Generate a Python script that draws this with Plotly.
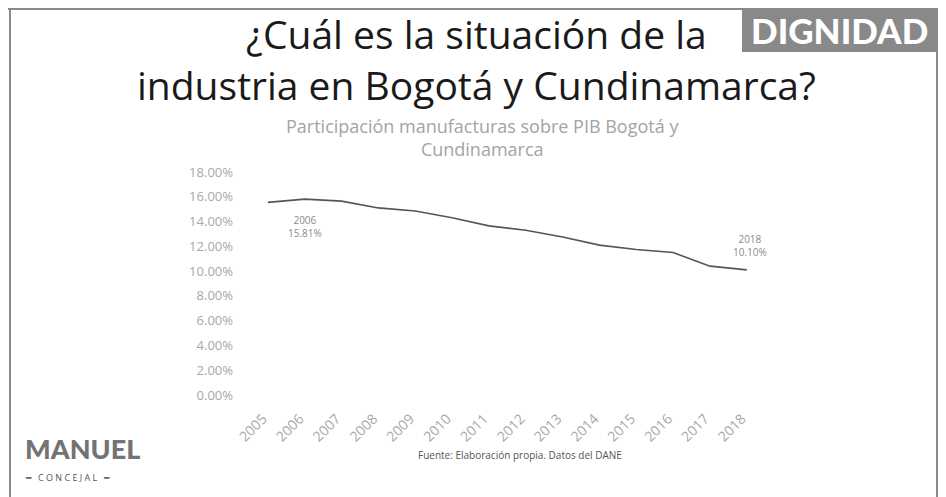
import plotly.graph_objects as go

years = list(range(2005, 2019))
share_pct = [15.55, 15.81, 15.65, 15.1, 14.85, 14.3, 13.65, 13.3, 12.75, 12.1, 11.75, 11.5, 10.4, 10.1]
y_ticks = [0, 2, 4, 6, 8, 10, 12, 14, 16, 18]
y_tick_labels = [f"{v:.2f}%" for v in y_ticks]

TITLE_FONT = "Open Sans, sans-serif"
BODY_FONT = "Open Sans, sans-serif"
LIGHT = "#a8a8a8"

# the page body adds an 8px margin, so lay out in slide pixels and shift back
OFF = 8
L, T, W, H = 220 - OFF, 170 - OFF, 550, 230

fig = go.Figure(
    go.Scatter(
        x=years,
        y=share_pct,
        mode="lines",
        line=dict(color="#555555", width=1.6),
        hoverinfo="skip",
    )
)

fig.update_layout(
    width=946,
    height=497,
    paper_bgcolor="#ffffff",
    plot_bgcolor="#ffffff",
    showlegend=False,
    margin=dict(l=L, r=946 - L - W, t=T, b=497 - T - H),
    xaxis=dict(
        range=[2003.70, 2018.63],
        tickmode="array",
        tickvals=years,
        ticktext=[str(y) for y in years],
        tickangle=-45,
        tickfont=dict(family=BODY_FONT, size=14, color=LIGHT),
        ticklabelstandoff=7,
        ticklabelshift=-5,
        showgrid=False,
        zeroline=False,
        showline=False,
        ticks="",
    ),
    yaxis=dict(
        range=[-0.40, 18.16],
        tickmode="array",
        tickvals=y_ticks,
        ticktext=y_tick_labels,
        tickfont=dict(family=BODY_FONT, size=13, color=LIGHT),
        showgrid=False,
        zeroline=False,
        showline=False,
        ticks="",
        ticklabelstandoff=-14,
    ),
)


# slide-pixel helpers -> plot-domain coordinates
def px(x):
    return (x - OFF - L) / W


def py(y):
    return (T + H - (y - OFF)) / H


def note(x, y, text, **kw):
    fig.add_annotation(xref="x domain", yref="y domain", x=px(x), y=py(y),
                       text=text, showarrow=False,
                       xanchor=kw.pop("xanchor", "center"), yanchor="middle", **kw)


# slide frame
frame = dict(color="#8a8a8a", width=2)
fig.add_shape(type="line", xref="x domain", yref="y domain",
              x0=px(8), x1=px(946), y0=py(9), y1=py(9), line=frame)
fig.add_shape(type="line", xref="x domain", yref="y domain",
              x0=px(10), x1=px(10), y0=py(9), y1=py(497), line=frame)
fig.add_shape(type="line", xref="x domain", yref="y domain",
              x0=px(937), x1=px(937), y0=py(9), y1=py(497), line=frame)
fig.add_shape(type="rect", xref="x domain", yref="y domain",
              x0=px(742), x1=px(938), y0=py(52), y1=py(8),
              fillcolor="#898989", line=dict(width=0))

note(839, 30, "DIGNIDAD",
     font=dict(family="Lato, sans-serif", size=35, color="#ffffff", weight=900))

# slide title, two centred lines in one block
note(476, 59, "¿Cuál es la situación de la<br>industria en Bogotá y Cundinamarca?",
     align="center",
     font=dict(family=TITLE_FONT, size=39, color="#1a1a1a"))

note(482, 137, "Participación manufacturas sobre PIB Bogotá y<br>Cundinamarca",
     align="center",
     font=dict(family=BODY_FONT, size=18, color="#a4a4a4"))

# data labels
fig.add_annotation(x=years[1], y=share_pct[1], xshift=0, yshift=-27,
                   text=f"{years[1]}<br>{share_pct[1]:.2f}%", showarrow=False,
                   font=dict(family=BODY_FONT, size=10, color="#8a8a8a"))
fig.add_annotation(x=years[-1], y=share_pct[-1], xshift=3, yshift=24,
                   text=f"{years[-1]}<br>{share_pct[-1]:.2f}%", showarrow=False,
                   font=dict(family=BODY_FONT, size=10, color="#8a8a8a"))

note(520, 455, "Fuente: Elaboración propia. Datos del DANE",
     font=dict(family=BODY_FONT, size=10, color="#555555"))

# logo
note(23, 448, "MANUEL", xanchor="left",
     font=dict(family="Lato, sans-serif", size=27, color="#737373", weight=900))
note(23, 477, "━   C O N C E J A L   ━", xanchor="left",
     font=dict(family=BODY_FONT, size=9, color="#555555"))

fig.write_html("out.html")
